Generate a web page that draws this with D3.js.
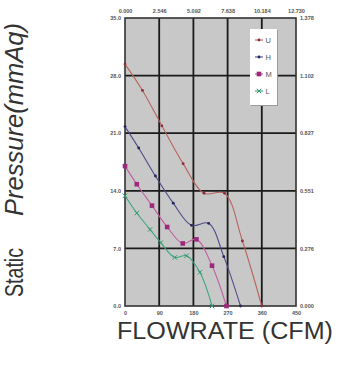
<!DOCTYPE html>
<html>
<head>
<meta charset="utf-8">
<script src="https://cdn.jsdelivr.net/npm/d3@7"></script>
<style>
  body { margin: 0; background: #fff; }
  svg { display: block; font-family: "Liberation Sans", Arial, sans-serif; }
</style>
</head>
<body>
<svg id="chart" width="349" height="381"></svg>
<script>
// flow (CFM) vs static pressure (mmAq)
var U_FLOW = [0, 46, 97, 153, 208, 262, 309, 360];
var U_PRES = [29.4, 26.2, 21.9, 17.3, 13.7, 13.7, 7.9, 0];
var H_FLOW = [0, 36, 80, 127, 175, 220, 260, 304];
var H_PRES = [21.8, 19.2, 15.8, 12.5, 9.8, 10.05, 6.0, 0];
var M_FLOW = [0, 31, 71, 111, 152, 188, 229, 267];
var M_PRES = [17.0, 14.8, 12.2, 9.6, 7.6, 8.1, 4.9, 0];
var L_FLOW = [0, 31, 66, 94, 131, 162, 197, 229];
var L_PRES = [13.4, 11.3, 9.3, 7.7, 5.9, 6.1, 4.1, 0];

var BOTTOM_TICKS = [0, 90, 180, 270, 360, 450];
var LEFT_TICKS = [0, 7, 14, 21, 28, 35];
var TOP_LABELS = ["0.000", "2.546", "5.092", "7.638", "10.184", "12.730"];
var RIGHT_LABELS = ["0.000", "0.276", "0.551", "0.827", "1.102", "1.378"];

var series = [
  { name: "U", flow: U_FLOW, pres: U_PRES, line: "#b8645e", mark: "#8c2c3c", shape: "dot" },
  { name: "H", flow: H_FLOW, pres: H_PRES, line: "#4c4c8c", mark: "#25255a", shape: "dot" },
  { name: "M", flow: M_FLOW, pres: M_PRES, line: "#c45ea2", mark: "#9c2a7c", shape: "square" },
  { name: "L", flow: L_FLOW, pres: L_PRES, line: "#3aa87a", mark: "#2a9a6a", shape: "cross" }
];

var svg = d3.select("#chart");
var x = d3.scaleLinear().domain([0, 450]).range([125, 296]);
var y = d3.scaleLinear().domain([0, 35]).range([306, 18]);

// plot background
svg.append("rect")
  .attr("x", x(0)).attr("y", y(35))
  .attr("width", x(450) - x(0)).attr("height", y(0) - y(35))
  .attr("fill", "#c8c8c8");

// grid
svg.selectAll("line.vg").data(BOTTOM_TICKS.slice(1, -1)).enter().append("line")
  .attr("x1", d => x(d)).attr("x2", d => x(d))
  .attr("y1", y(0)).attr("y2", y(35))
  .attr("stroke", "#1a1a1a").attr("stroke-width", 1.8);
svg.selectAll("line.hg").data(LEFT_TICKS.slice(1, -1)).enter().append("line")
  .attr("y1", d => y(d)).attr("y2", d => y(d))
  .attr("x1", x(0)).attr("x2", x(450))
  .attr("stroke", "#1a1a1a").attr("stroke-width", 1.8);

svg.append("rect")
  .attr("x", x(0)).attr("y", y(35))
  .attr("width", x(450) - x(0)).attr("height", y(0) - y(35))
  .attr("fill", "none").attr("stroke", "#333").attr("stroke-width", 1.6);

// axes (labels only)
function styleAxis(g) {
  g.select(".domain").remove();
  g.selectAll(".tick line").remove();
  g.selectAll("text")
    .attr("fill", "#555")
    .style("font-size", "5.5px")
    .style("font-weight", "bold");
}
svg.append("g").attr("transform", "translate(0,306)")
  .call(d3.axisBottom(x).tickValues(BOTTOM_TICKS).tickSize(0).tickPadding(5).tickFormat(d3.format("d")))
  .call(styleAxis);
svg.append("g").attr("transform", "translate(124,0)")
  .call(d3.axisLeft(y).tickValues(LEFT_TICKS).tickSize(0).tickPadding(3).tickFormat(d3.format(".1f")))
  .call(styleAxis);
svg.append("g").attr("transform", "translate(297,0)")
  .call(d3.axisRight(y).tickValues(LEFT_TICKS).tickSize(0).tickPadding(3).tickFormat((d, i) => RIGHT_LABELS[i]))
  .call(styleAxis);
svg.append("g").attr("transform", "translate(0,17)")
  .call(d3.axisTop(x).tickValues(BOTTOM_TICKS).tickSize(0).tickPadding(4).tickFormat((d, i) => TOP_LABELS[i]))
  .call(styleAxis);

// curves
var line = d3.line()
  .x(d => x(d[0])).y(d => y(d[1]))
  .curve(d3.curveCatmullRom.alpha(0.5));

function drawMarker(g, shape, color, cx, cy) {
  if (shape === "dot") {
    g.append("circle").attr("cx", cx).attr("cy", cy).attr("r", 1.4).attr("fill", color);
  } else if (shape === "square") {
    g.append("rect").attr("x", cx - 2.3).attr("y", cy - 2.3).attr("width", 4.6).attr("height", 4.6).attr("fill", color);
  } else {
    g.append("path")
      .attr("d", "M" + (cx - 2.2) + "," + (cy - 2.2) + "L" + (cx + 2.2) + "," + (cy + 2.2) +
                 "M" + (cx - 2.2) + "," + (cy + 2.2) + "L" + (cx + 2.2) + "," + (cy - 2.2))
      .attr("stroke", color).attr("stroke-width", 1);
  }
}

series.forEach(function (s) {
  var pts = s.flow.map((f, i) => [f, s.pres[i]]);
  svg.append("path").datum(pts)
    .attr("d", line)
    .attr("fill", "none")
    .attr("stroke", s.line)
    .attr("stroke-width", 1.1);
  var g = svg.append("g");
  pts.forEach(p => drawMarker(g, s.shape, s.mark, x(p[0]), y(p[1])));
});

// legend
var lg = svg.append("g");
lg.append("rect").attr("x", 251).attr("y", 30).attr("width", 27).attr("height", 76).attr("fill", "#9a9a9a");
lg.append("rect").attr("x", 250).attr("y", 29).attr("width", 27).attr("height", 76).attr("fill", "#fff");
series.forEach(function (s, i) {
  var ly = 40 + i * 17;
  lg.append("line").attr("x1", 255).attr("x2", 263).attr("y1", ly).attr("y2", ly)
    .attr("stroke", s.line).attr("stroke-width", 1.1);
  drawMarker(lg, s.shape, s.mark, 259, ly);
  lg.append("text").attr("x", 265.5).attr("y", ly + 2.5)
    .attr("fill", "#555").style("font-size", "7.5px").text(s.name);
});

// titles
svg.append("text")
  .attr("x", 117).attr("y", 339)
  .attr("textLength", 216).attr("lengthAdjust", "spacingAndGlyphs")
  .attr("fill", "#333").style("font-size", "23px")
  .text("FLOWRATE (CFM)");

var yt = svg.append("g").attr("transform", "translate(23,0) rotate(-90)");
yt.append("text")
  .attr("x", -297).attr("y", 0)
  .attr("textLength", 49).attr("lengthAdjust", "spacingAndGlyphs")
  .attr("fill", "#333").style("font-size", "25px")
  .text("Static");
yt.append("text")
  .attr("x", -216).attr("y", 0)
  .attr("textLength", 193).attr("lengthAdjust", "spacingAndGlyphs")
  .attr("fill", "#333").style("font-size", "26px").style("font-style", "italic")
  .text("Pressure(mmAq)");
</script>
</body>
</html>
